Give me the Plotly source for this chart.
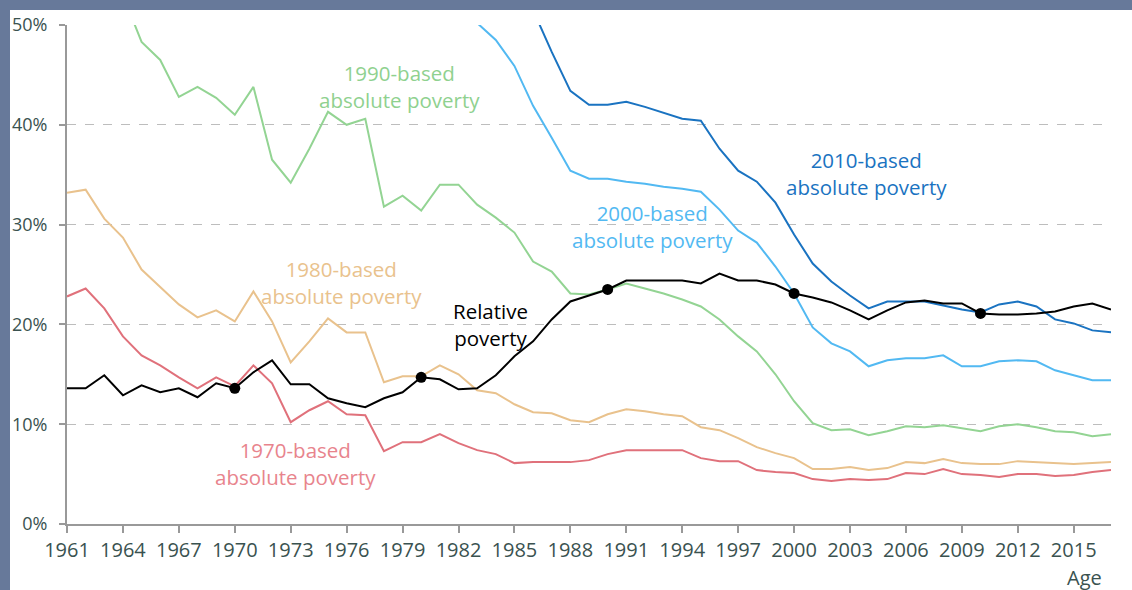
import plotly.graph_objects as go

years = list(range(1961, 2018))

relative = [13.6, 13.6, 14.9, 12.9, 13.9, 13.2, 13.6, 12.7, 14.1, 13.6,
            15.2, 16.4, 14.0, 14.0, 12.6, 12.1, 11.7, 12.6, 13.2, 14.7,
            14.5, 13.5, 13.6, 14.9, 16.8, 18.3, 20.5, 22.3, 22.9, 23.5,
            24.4, 24.4, 24.4, 24.4, 24.1, 25.1, 24.4, 24.4, 24.0, 23.1,
            22.7, 22.2, 21.4, 20.5, 21.4, 22.2, 22.4, 22.1, 22.1, 21.1,
            21.0, 21.0, 21.1, 21.3, 21.8, 22.1, 21.5]

abs1970 = [22.8, 23.6, 21.6, 18.8, 16.9, 15.9, 14.7, 13.6, 14.7, 13.8,
           15.9, 14.1, 10.2, 11.4, 12.3, 11.0, 10.9, 7.3, 8.2, 8.2,
           9.0, 8.1, 7.4, 7.0, 6.1, 6.2, 6.2, 6.2, 6.4, 7.0,
           7.4, 7.4, 7.4, 7.4, 6.6, 6.3, 6.3, 5.4, 5.2, 5.1,
           4.5, 4.3, 4.5, 4.4, 4.5, 5.1, 5.0, 5.5, 5.0, 4.9,
           4.7, 5.0, 5.0, 4.8, 4.9, 5.2, 5.4]

abs1980 = [33.2, 33.5, 30.6, 28.7, 25.5, 23.7, 22.0, 20.7, 21.4, 20.3,
           23.3, 20.3, 16.2, 18.3, 20.6, 19.2, 19.2, 14.2, 14.8, 14.8,
           15.9, 15.0, 13.4, 13.1, 12.0, 11.2, 11.1, 10.4, 10.2, 11.0,
           11.5, 11.3, 11.0, 10.8, 9.7, 9.4, 8.6, 7.7, 7.1, 6.6,
           5.5, 5.5, 5.7, 5.4, 5.6, 6.2, 6.1, 6.5, 6.1, 6.0,
           6.0, 6.3, 6.2, 6.1, 6.0, 6.1, 6.2]

abs1990 = [None, None, None, 53.0, 48.3, 46.5, 42.8, 43.8, 42.7, 41.0,
           43.8, 36.5, 34.2, 37.6, 41.3, 40.0, 40.6, 31.8, 32.9, 31.4,
           34.0, 34.0, 32.0, 30.7, 29.2, 26.3, 25.3, 23.1, 23.0, 23.5,
           24.1, 23.6, 23.1, 22.5, 21.8, 20.5, 18.8, 17.3, 15.0, 12.3,
           10.1, 9.4, 9.5, 8.9, 9.3, 9.8, 9.7, 9.9, 9.6, 9.3,
           9.8, 10.0, 9.7, 9.3, 9.2, 8.8, 9.0]

abs2000 = [None] * 22 + [50.2, 48.5, 45.9, 41.9, 38.7, 35.4, 34.6, 34.6,
           34.3, 34.1, 33.8, 33.6, 33.3, 31.5, 29.4, 28.2, 25.8, 23.1,
           19.7, 18.1, 17.3, 15.8, 16.4, 16.6, 16.6, 16.9, 15.8, 15.8,
           16.3, 16.4, 16.3, 15.4, 14.9, 14.4, 14.4]

abs2010 = [None] * 25 + [51.5, 47.3, 43.4, 42.0, 42.0,
           42.3, 41.8, 41.2, 40.6, 40.4, 37.6, 35.4, 34.3, 32.2, 29.0,
           26.1, 24.3, 22.9, 21.6, 22.3, 22.3, 22.3, 21.9, 21.5, 21.2,
           22.0, 22.3, 21.8, 20.5, 20.1, 19.4, 19.2]

marker_years = [1970, 1980, 1990, 2000, 2010]

series = [
    ("1970-based absolute poverty", abs1970, "#e0717b"),
    ("1980-based absolute poverty", abs1980, "#e9c28d"),
    ("1990-based absolute poverty", abs1990, "#93d493"),
    ("2000-based absolute poverty", abs2000, "#52b9f2"),
    ("2010-based absolute poverty", abs2010, "#1a73c1"),
    ("Relative poverty", relative, "#000000"),
]

FONT = "Open Sans"
TICK_COLOR = "#3a5250"

fig = go.Figure()
for name, vals, col in series:
    fig.add_trace(go.Scatter(x=years, y=vals, mode="lines", name=name,
                             line=dict(color=col, width=2), connectgaps=False))

fig.add_trace(go.Scatter(
    x=marker_years,
    y=[relative[years.index(y)] for y in marker_years],
    mode="markers", marker=dict(color="#000000", size=11),
    name="Base years"))

labels = [
    ("1990-based<br>absolute poverty", 1978.86, 43.8, "#8fd18f"),
    ("2010-based<br>absolute poverty", 2003.86, 35.17, "#1a73c1"),
    ("2000-based<br>absolute poverty", 1992.43, 29.86, "#52b9f2"),
    ("1980-based<br>absolute poverty", 1975.75, 24.15, "#e9c28d"),
    ("Relative<br>poverty", 1983.69, 20.04, "#000000"),
    ("1970-based<br>absolute poverty", 1973.23, 6.11, "#e8848d"),
]
for text, x, y, col in labels:
    fig.add_annotation(x=x, y=y, xref="x", yref="y", text=text, showarrow=False,
                       font=dict(family=FONT, size=20.5, color=col),
                       align="center", xanchor="center", yanchor="middle")

L, R, T, B = 67, 21, 25, 66
W, H = 1132, 590
pw, ph = W - L - R, H - T - B

fig.add_annotation(x=(1084 - L) / pw, y=(H - B - 577) / ph, xref="paper", yref="paper",
                   text="Age", showarrow=False, xanchor="center", yanchor="middle",
                   font=dict(family=FONT, size=20, color=TICK_COLOR))

frame = "#67799a"
fig.add_shape(type="rect", xref="paper", yref="paper",
              x0=(0 - L) / pw, x1=(W - L) / pw,
              y0=(H - B - 10) / ph, y1=(H - B) / ph,
              fillcolor=frame, line_width=0, layer="above")
fig.add_shape(type="rect", xref="paper", yref="paper",
              x0=(0 - L) / pw, x1=(10 - L) / pw,
              y0=(H - B - H) / ph, y1=(H - B) / ph,
              fillcolor=frame, line_width=0, layer="above")

fig.update_layout(
    width=W, height=H, autosize=False,
    margin=dict(l=L, r=R, t=T, b=B, pad=0),
    paper_bgcolor="white", plot_bgcolor="white",
    showlegend=False,
    font=dict(family=FONT, size=19, color=TICK_COLOR),
)
fig.update_xaxes(range=[1961, 2017], tickvals=list(range(1961, 2016, 3)),
                 showgrid=False, showline=True, linecolor="#999999", linewidth=2,
                 ticks="outside", ticklen=7, tickcolor="#999999", tickwidth=1.5,
                 tickfont=dict(family=FONT, size=20, color=TICK_COLOR),
                 zeroline=False, automargin=False)
fig.update_yaxes(range=[0, 50], tickvals=[0, 10, 20, 30, 40, 50],
                 ticktext=["0%", "10%", "20%", "30%", "40%", "50%"],
                 showgrid=True, gridcolor="#bdbdbd", griddash="dash", gridwidth=1,
                 showline=True, linecolor="#999999", linewidth=2,
                 ticks="outside", ticklen=6, tickcolor="#999999", tickwidth=1.5,
                 ticklabelstandoff=8,
                 tickfont=dict(family=FONT, size=18, color=TICK_COLOR),
                 zeroline=False, automargin=False)

fig.write_html("out.html", config={"displayModeBar": False},
               post_script="document.body.style.margin='0';document.body.style.overflow='hidden';")
